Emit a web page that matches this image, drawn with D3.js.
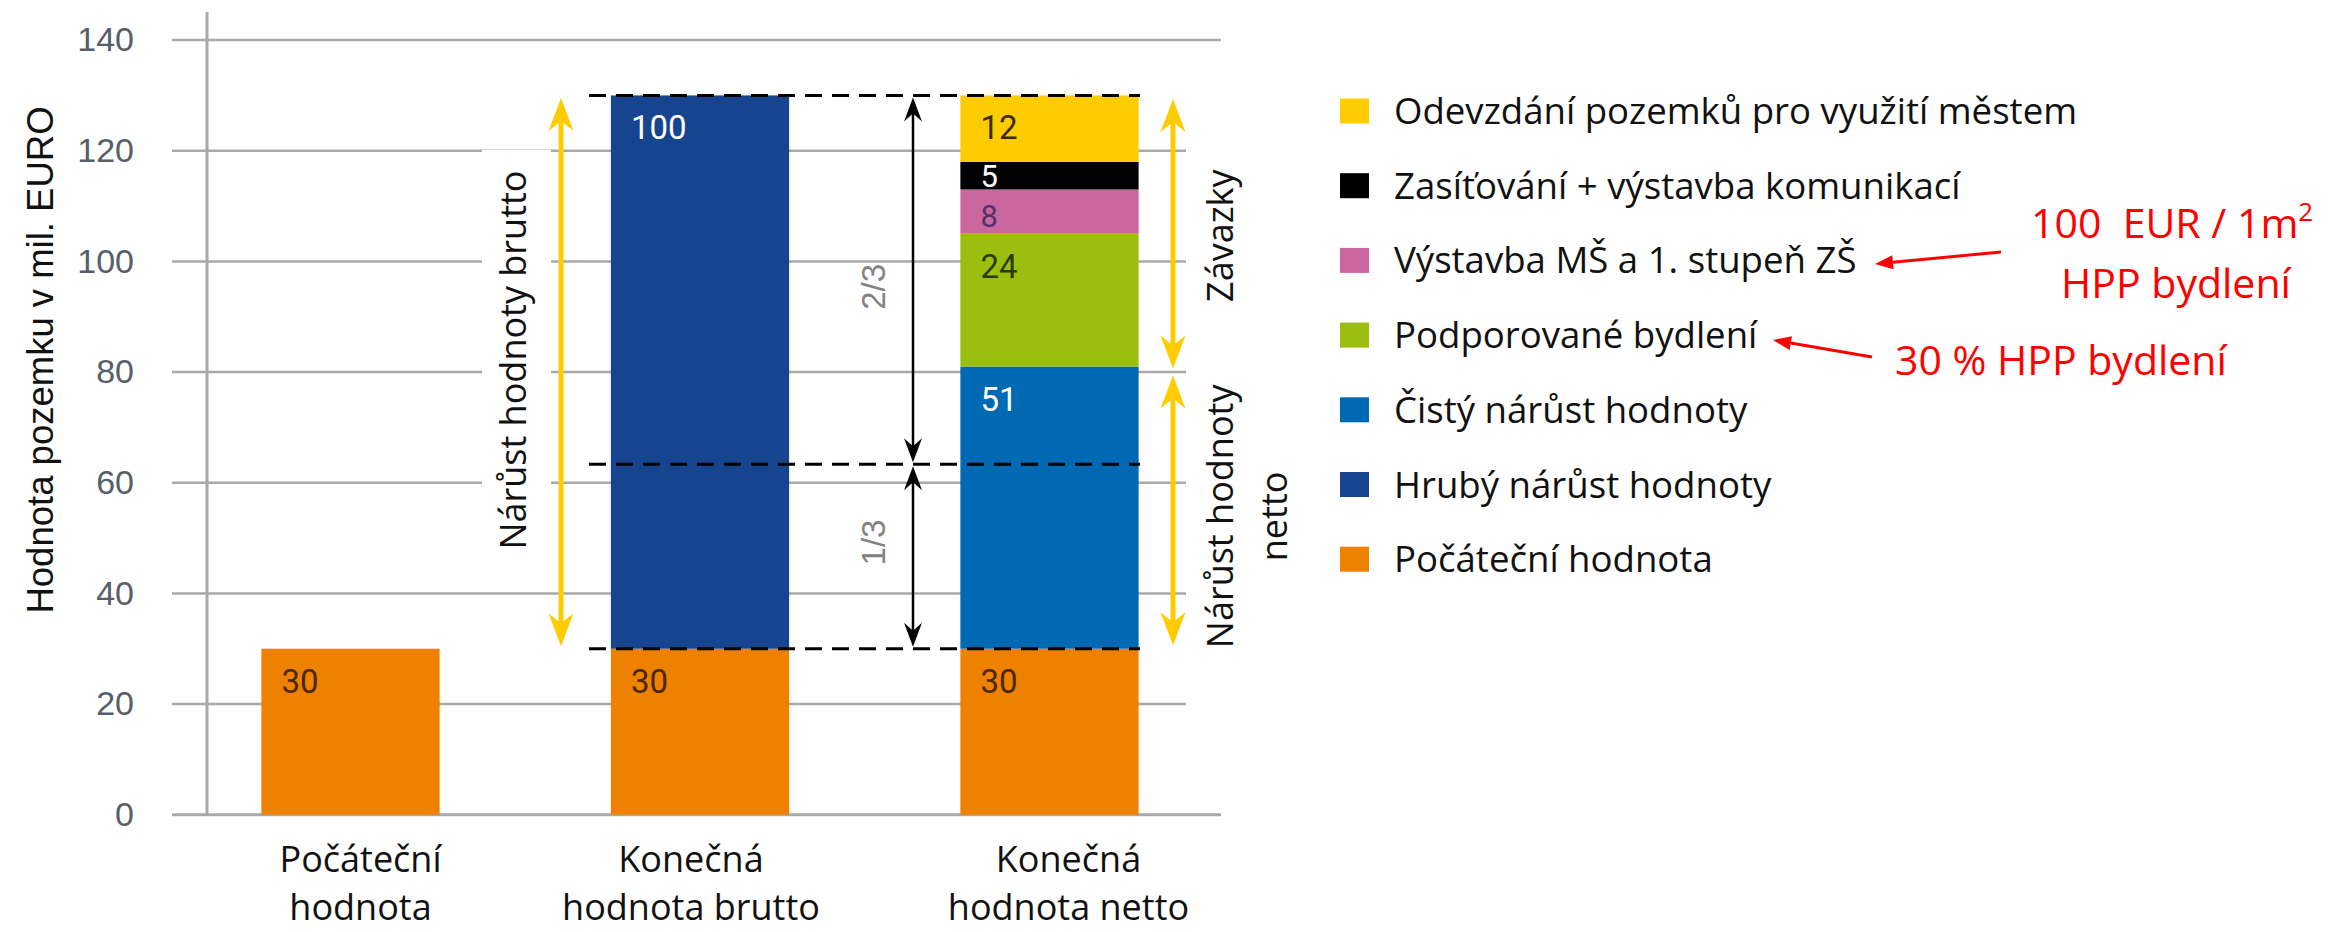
<!DOCTYPE html>
<html><head><meta charset="utf-8">
<script src="https://cdn.jsdelivr.net/npm/d3@7"></script>
<style>html,body{margin:0;padding:0;background:#fff;} svg{display:block;}</style>
</head><body><svg id="chart" width="2331" height="932"></svg>
<script>
// ---------- DATA ----------
const categories = ["Počáteční hodnota", "Konečná hodnota brutto", "Konečná hodnota netto"];
const categoryLines = [["Počáteční", "hodnota"], ["Konečná", "hodnota brutto"], ["Konečná", "hodnota netto"]];
const seriesNames = [
  "Počáteční hodnota",
  "Hrubý nárůst hodnoty",
  "Čistý nárůst hodnoty",
  "Podporované bydlení",
  "Výstavba MŠ a 1. stupeň ZŠ",
  "Zasíťování + výstavba komunikací",
  "Odevzdání pozemků pro využití městem"
];
const pocatecni   = [30, 30, 30];
const hruby       = [0, 100, 0];
const cisty       = [0, 0, 51];
const podporovane = [0, 0, 24];
const vystavba    = [0, 0, 8];
const zasitovani  = [0, 0, 5];
const odevzdani   = [0, 0, 12];
const yTicks = [0, 20, 40, 60, 80, 100, 120, 140];
const seriesColors = ["#EE8100", "#16448F", "#0069B4", "#9BBE0F", "#CB679F", "#000000", "#FFCC00"];
const labelColors  = ["#4a2800", "#ffffff", "#ffffff", "#2c3a04", "#55306a", "#ffffff", "#3a2a00"];
const axisTitle = "Hodnota pozemku v mil. EURO";
const bruttoLabel = "Nárůst hodnoty brutto";
const zavazkyLabel = "Závazky";
const nettoLines = ["Nárůst hodnoty", "netto"];
const fractionLabels = ["2/3", "1/3"];
const noteSchool = ["100  EUR / 1m", "2", "HPP bydlení"];
const noteHousing = "30 % HPP bydlení";

(function () {
const svg = d3.select("#chart");
const W = 2331, H = 932;
svg.append("rect").attr("width", W).attr("height", H).attr("fill", "#fff");

const y = d3.scaleLinear().domain([0, 140]).range([814.7, 40.1]);
const x = d3.scaleBand().domain(categories).range([175.75, 1224.25]).paddingInner(0.49).paddingOuter(0.245);

const sansA = "'Liberation Sans', Arial, sans-serif";
const sansO = "'Open Sans', 'Noto Sans', sans-serif";
const sansR = "Roboto, 'Liberation Sans', sans-serif";

// ---------- GRID ----------
svg.append("g").selectAll("line").data(yTicks).join("line")
  .attr("x1", 172)
  .attr("x2", d => (d === 0 || d === 140) ? 1221 : 1186)
  .attr("y1", d => y(d)).attr("y2", d => y(d))
  .attr("stroke", "#a9a9a9").attr("stroke-width", d => d === 0 ? 3 : 2.5);
svg.append("line").attr("x1", 207).attr("x2", 207).attr("y1", 12).attr("y2", y(0) + 1)
  .attr("stroke", "#a9a9a9").attr("stroke-width", 3);

const yAxis = d3.axisLeft(y).tickValues(yTicks).tickSize(0).tickPadding(3);
const ga = svg.append("g").attr("transform", "translate(137,0)").call(yAxis);
ga.select(".domain").remove();
ga.selectAll("text").attr("font-family", sansA).attr("font-size", 34).attr("fill", "#565e68");

svg.append("text")
  .attr("transform", `translate(40,360) rotate(-90)`)
  .attr("text-anchor", "middle").attr("dominant-baseline", "central")
  .attr("font-family", sansA).attr("font-size", 36.5).attr("fill", "#111")
  .text(axisTitle);

svg.append("rect").attr("x", 482).attr("width", 69).attr("y", 150).attr("height", 410).attr("fill", "#fff");

// ---------- BARS ----------
const seriesArrays = [pocatecni, hruby, cisty, podporovane, vystavba, zasitovani, odevzdani];
const table = categories.map((c, j) => {
  const row = { cat: c };
  seriesNames.forEach((s, i) => row[s] = seriesArrays[i][j]);
  return row;
});
const stacked = d3.stack().keys(seriesNames)(table);

const bars = svg.append("g");
stacked.forEach((layer, i) => {
  const g = bars.append("g");
  layer.forEach(d => {
    if (d[1] - d[0] <= 0) return;
    g.append("rect")
      .attr("x", x(d.data.cat)).attr("width", x.bandwidth())
      .attr("y", y(d[1])).attr("height", y(d[0]) - y(d[1]))
      .attr("fill", seriesColors[i]);
  });
});
stacked.forEach((layer, i) => {
  layer.forEach(d => {
    const v = d[1] - d[0];
    if (v <= 0) return;
    const h = y(d[0]) - y(d[1]);
    const small = h < 50;
    bars.append("text")
      .attr("x", x(d.data.cat) + 20)
      .attr("y", y(d[1]) + (small ? Math.min(38, h - 2) : 44))
      .attr("font-family", sansR).attr("font-weight", 400).attr("font-size", small ? 31 : 33)
      .attr("fill", labelColors[i])
      .text(v);
  });
});

// ---------- ANNOTATIONS ----------
const baseV = pocatecni[1];
const topV = pocatecni[1] + hruby[1];
const thirdV = baseV + hruby[1] / 3;
const splitV = 80;

svg.append("g").selectAll("line").data([topV, thirdV, baseV]).join("line")
  .attr("x1", 589).attr("x2", 1140)
  .attr("y1", d => y(d)).attr("y2", d => y(d))
  .attr("stroke", "#000").attr("stroke-width", 3).attr("stroke-dasharray", "17,10");

function head(g, xx, yy, dir, len, half, notch, color) {
  const s = dir === "up" ? 1 : -1;
  g.append("path")
    .attr("d", `M${xx},${yy} L${xx - half},${yy + s * len} L${xx},${yy + s * notch} L${xx + half},${yy + s * len} Z`)
    .attr("fill", color);
}
function dblArrow(xx, v1, v2, opt) {
  const g = svg.append("g");
  const yt = y(v1) + opt.gap, yb = y(v2) - opt.gap;
  g.append("line").attr("x1", xx).attr("x2", xx).attr("y1", yt + opt.notch).attr("y2", yb - opt.notch)
    .attr("stroke", opt.color).attr("stroke-width", opt.w);
  head(g, xx, yt, "up", opt.len, opt.half, opt.notch + 1, opt.color);
  head(g, xx, yb, "down", opt.len, opt.half, opt.notch + 1, opt.color);
}
const blackOpt = { color: "#000", w: 2.5, len: 24, half: 9, notch: 15, gap: 2 };
dblArrow(913, topV, thirdV, blackOpt);
dblArrow(913, thirdV, baseV, blackOpt);
const yellowOpt = { color: "#FFCC00", w: 5, len: 33, half: 12.5, notch: 22, gap: 2.5 };
dblArrow(561, topV, baseV, yellowOpt);
dblArrow(1173, topV, splitV, Object.assign({}, yellowOpt, { gap: 3.5 }));
dblArrow(1173, splitV, baseV, Object.assign({}, yellowOpt, { gap: 3.5 }));

svg.append("text")
  .attr("transform", `translate(873,${y((topV + thirdV) / 2) + 7}) rotate(-90)`)
  .attr("text-anchor", "middle").attr("dominant-baseline", "central")
  .attr("font-family", sansA).attr("font-size", 33).attr("fill", "#828282")
  .text(fractionLabels[0]);
svg.append("text")
  .attr("transform", `translate(873,${y((thirdV + baseV) / 2) - 14}) rotate(-90)`)
  .attr("text-anchor", "middle").attr("dominant-baseline", "central")
  .attr("font-family", sansA).attr("font-size", 33).attr("fill", "#828282")
  .text(fractionLabels[1]);

svg.append("text")
  .attr("transform", `translate(526,${y((topV + baseV) / 2) - 12}) rotate(-90)`)
  .attr("text-anchor", "middle")
  .attr("font-family", sansO).attr("font-size", 36).attr("fill", "#111")
  .text(bruttoLabel);
svg.append("text")
  .attr("transform", `translate(1233,${y((topV + splitV) / 2) + 2}) rotate(-90)`)
  .attr("text-anchor", "middle")
  .attr("font-family", sansO).attr("font-size", 36).attr("fill", "#111")
  .text(zavazkyLabel);
nettoLines.forEach((t, i) => {
  svg.append("text")
    .attr("transform", `translate(${1233 + i * 54},${y((splitV + baseV) / 2) + 6}) rotate(-90)`)
    .attr("text-anchor", "middle")
    .attr("font-family", sansO).attr("font-size", 36).attr("fill", "#111")
    .text(t);
});

const labelNudge = [10, -9, 19];
categories.forEach((c, j) => {
  categoryLines[j].forEach((t, k) => {
    svg.append("text")
      .attr("x", x(c) + x.bandwidth() / 2 + labelNudge[j])
      .attr("y", 872 + k * 48)
      .attr("text-anchor", "middle")
      .attr("font-family", sansO).attr("font-size", 36).attr("fill", "#111")
      .text(t);
  });
});

// ---------- LEGEND ----------
const legend = svg.append("g");
const legendOrder = d3.range(seriesNames.length).reverse();
legendOrder.forEach((si, k) => {
  const cy = 111 + k * 74.7;
  legend.append("rect").attr("x", 1340).attr("y", cy - 12.5).attr("width", 29).attr("height", 25)
    .attr("fill", seriesColors[si]);
  legend.append("text").attr("x", 1394).attr("y", cy + 13)
    .attr("font-family", sansO).attr("font-size", 36.6).attr("fill", "#111")
    .text(seriesNames[si]);
});

// ---------- RED NOTES ----------
const red = "#FF0000";
const n1 = svg.append("text").attr("x", 2031).attr("y", 238)
  .attr("font-family", sansO).attr("font-size", 41).attr("fill", red).style("white-space", "pre");
n1.append("tspan").text(noteSchool[0]);
n1.append("tspan").attr("dy", -17).attr("font-size", 26).text(noteSchool[1]);
const n1w = n1.node().getComputedTextLength();
if (n1w > 292) n1.attr("textLength", 290).attr("lengthAdjust", "spacingAndGlyphs");
svg.append("text").attr("x", 2176).attr("y", 298).attr("text-anchor", "middle")
  .attr("font-family", sansO).attr("font-size", 41).attr("fill", red).text(noteSchool[2]);
svg.append("text").attr("x", 1895).attr("y", 375)
  .attr("font-family", sansO).attr("font-size", 41).attr("fill", red).text(noteHousing);

function redArrow(x1, y1, x2, y2) {
  const ang = Math.atan2(y2 - y1, x2 - x1);
  const len = 18, half = 7;
  const bx = x2 - Math.cos(ang) * len, by = y2 - Math.sin(ang) * len;
  svg.append("line").attr("x1", x1).attr("y1", y1).attr("x2", bx).attr("y2", by)
    .attr("stroke", red).attr("stroke-width", 3);
  const px = -Math.sin(ang) * half, py = Math.cos(ang) * half;
  svg.append("path").attr("d", `M${x2},${y2} L${bx + px},${by + py} L${bx - px},${by - py} Z`).attr("fill", red);
}
redArrow(2001, 252, 1875, 264);
redArrow(1872, 357, 1773, 340);
})();
</script>
</body></html>
